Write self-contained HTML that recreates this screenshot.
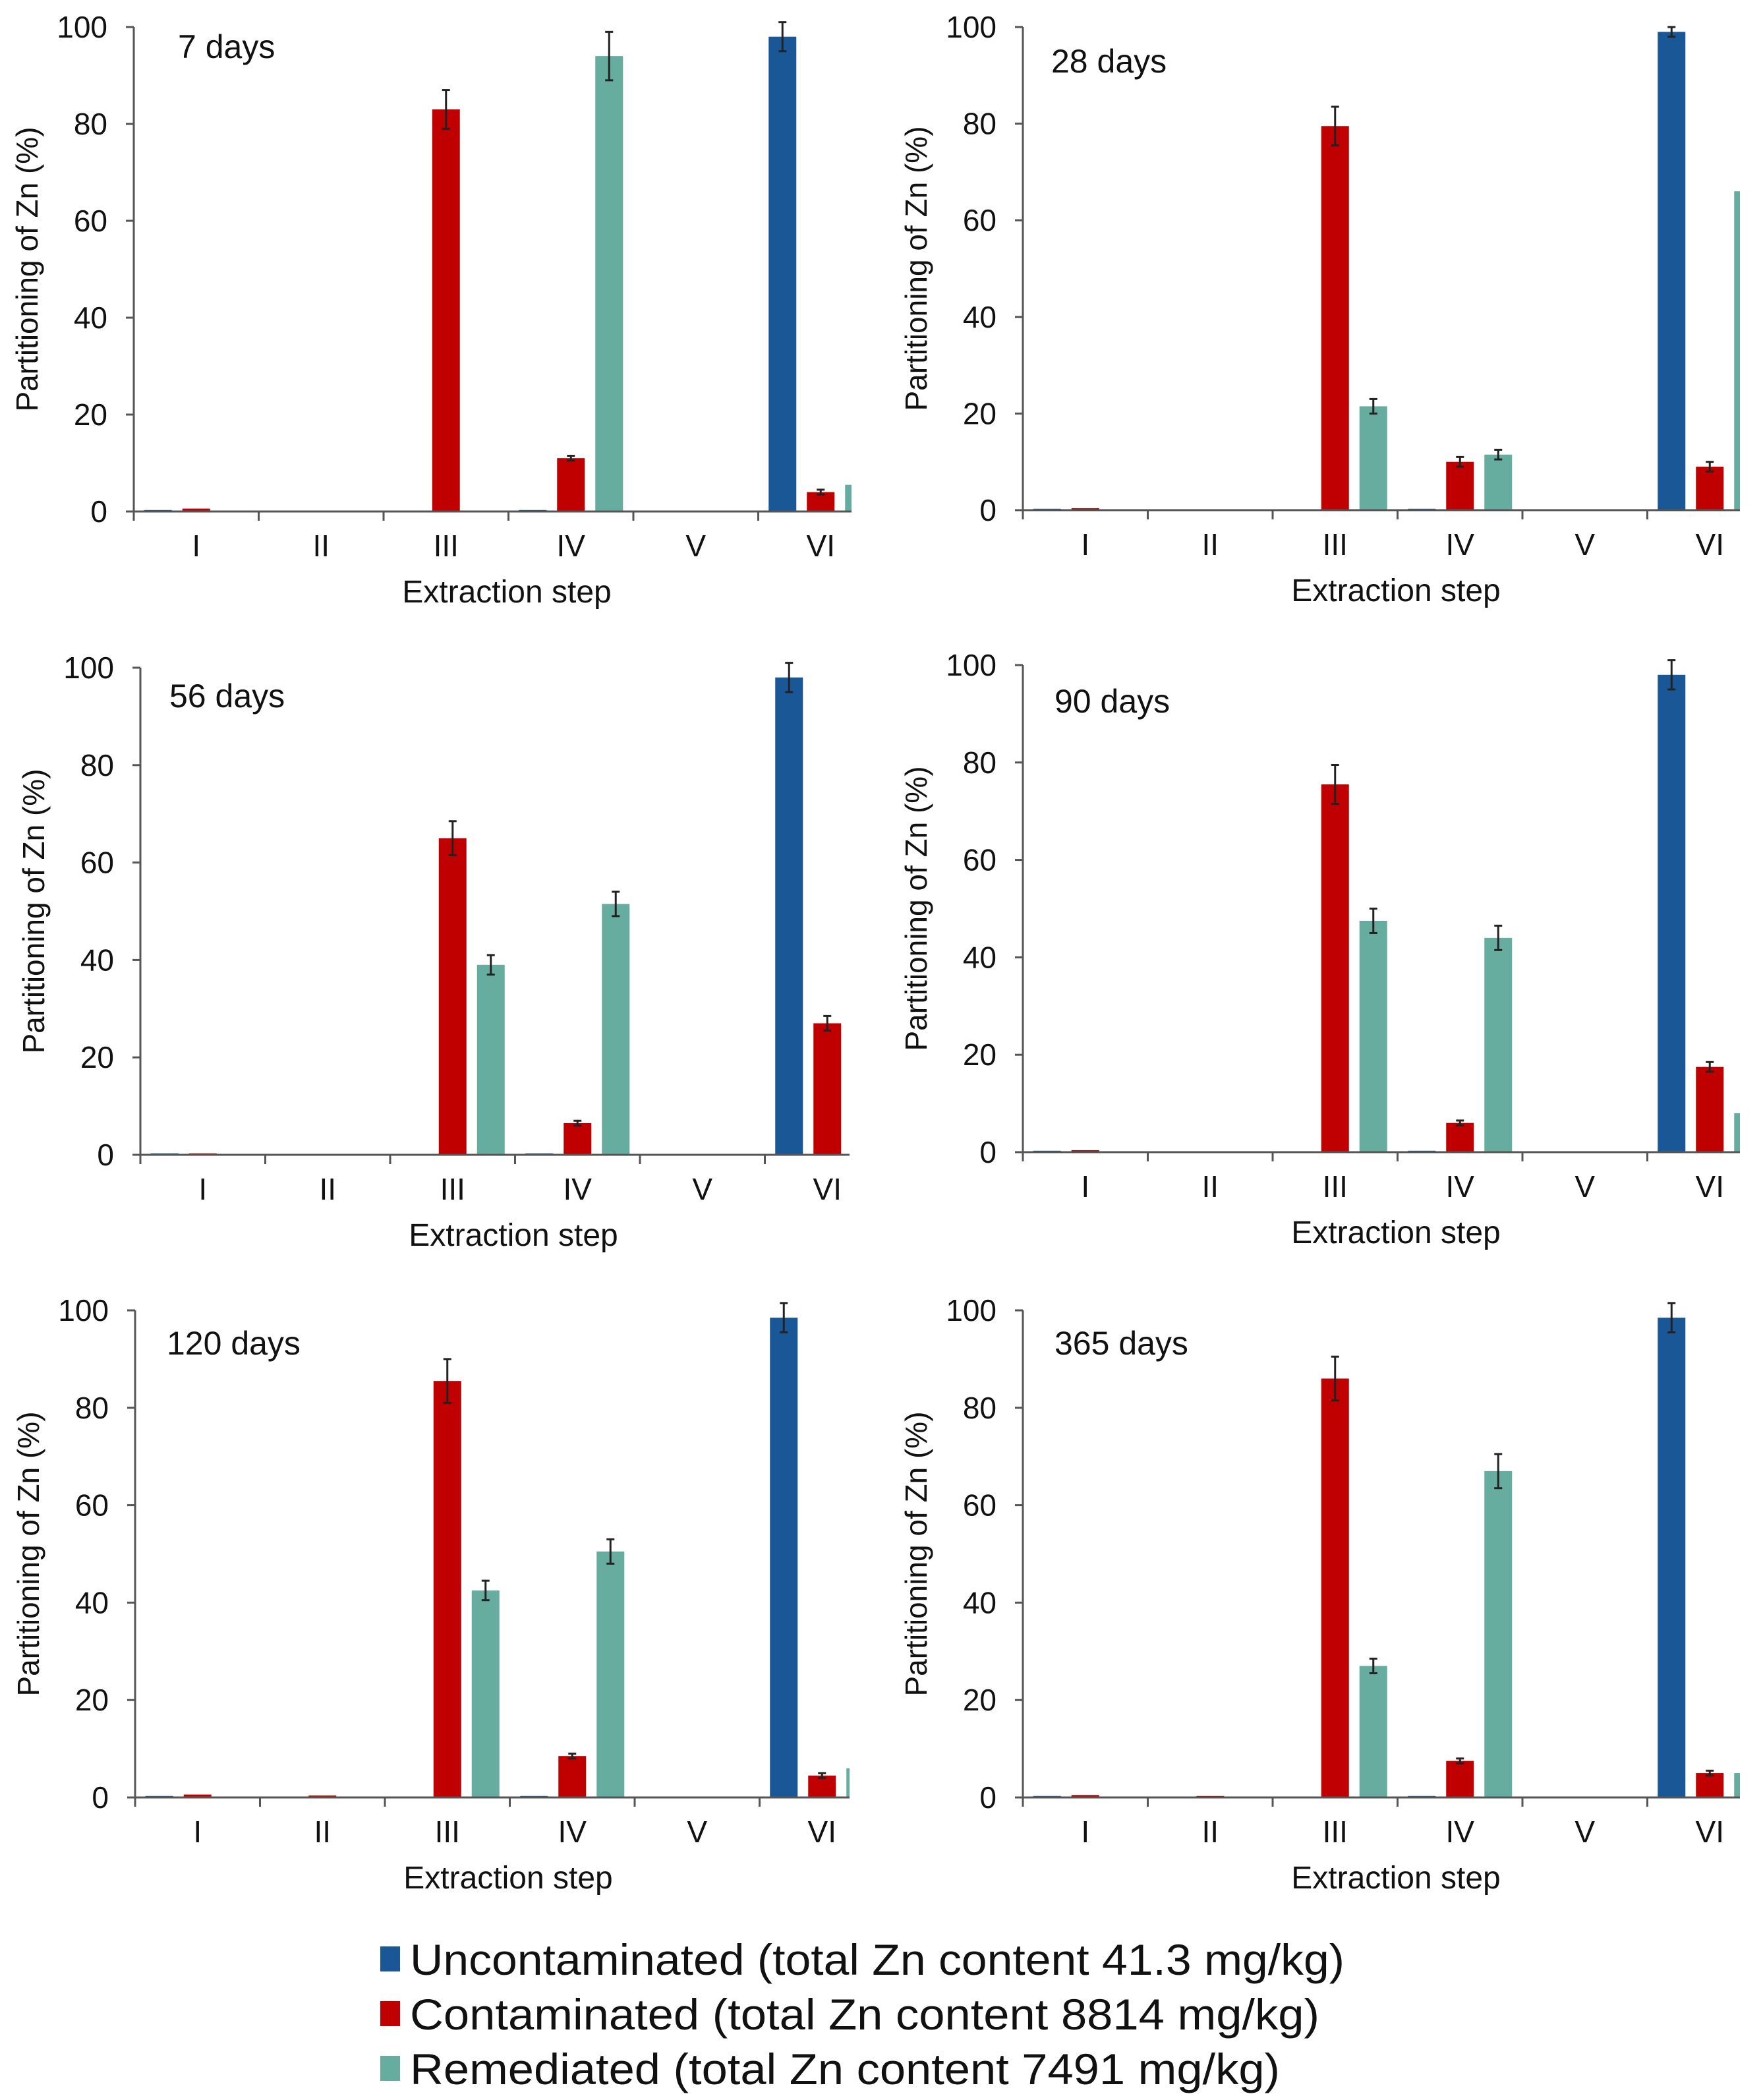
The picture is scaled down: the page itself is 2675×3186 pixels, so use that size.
<!DOCTYPE html>
<html><head><meta charset="utf-8"><style>
html,body{margin:0;padding:0;background:#fff}
svg{display:block}
text{font-family:"Liberation Sans",Arial,sans-serif;fill:#111}
</style></head><body>
<svg id="c" width="2675" height="3186" viewBox="0 0 2675 3186"></svg>
<script>
const categories = ["I","II","III","IV","V","VI"];
const yTicks = [0,20,40,60,80,100];
const panelTitles = ["7 days","28 days","56 days","90 days","120 days","365 days"];
const uncontaminated = [
 [0.3,0.2,0.2,0.3,0.2,98],[0.3,0.2,0.2,0.3,0.2,99],[0.3,0.2,0.2,0.3,0.2,98],
 [0.3,0.2,0.2,0.3,0.2,98],[0.3,0.2,0.2,0.3,0.2,98.5],[0.3,0.2,0.2,0.3,0.2,98.5]];
const contaminated = [
 [0.6,0.2,83,11,0.2,4],[0.4,0.2,79.5,10,0.2,9],[0.3,0.2,65,6.5,0.2,27],
 [0.4,0.2,75.5,6,0.2,17.5],[0.6,0.4,85.5,8.5,0.2,4.5],[0.5,0.3,86,7.5,0.2,5]];
const remediated = [
 [0.2,0.2,0.2,94,0.2,5.5],[0.2,0.2,21.5,11.5,0.2,66],[0.2,0.2,39,51.5,0.2,0],
 [0.2,0.2,47.5,44,0.2,8],[0.2,0.2,42.5,50.5,0.2,6],[0.2,0.2,27,67,0.2,5]];
const uncErr = [[0,0,0,0,0,3],[0,0,0,0,0,1],[0,0,0,0,0,3],[0,0,0,0,0,3],[0,0,0,0,0,3],[0,0,0,0,0,3]];
const conErr = [[0,0,4,0.5,0,0.5],[0,0,4,1,0,1],[0,0,3.5,0.5,0,1.5],[0,0,4,0.5,0,1],[0,0,4.5,0.5,0,0.5],[0,0,4.5,0.5,0,0.5]];
const remErr = [[0,0,0,5,0,0],[0,0,1.5,1,0,4],[0,0,2,2.5,0,0],[0,0,2.5,2.5,0,0],[0,0,2,2.5,0,0],[0,0,1.5,3.5,0,0]];

const layout = [
 {ax:203,y100:41,y0:776,xe:1292,tx:270,ty:88},
 {ax:1552,y100:41,y0:774,xe:2640,tx:1595,ty:110},
 {ax:213,y100:1013,y0:1752,xe:1289,tx:257,ty:1073},
 {ax:1552,y100:1009,y0:1748,xe:2640,tx:1600,ty:1081},
 {ax:205,y100:1988,y0:2727,xe:1289,tx:253,ty:2055},
 {ax:1552,y100:1988,y0:2727,xe:2640,tx:1600,ty:2055}];
const colors = ["#1a5796","#c00000","#66ad9f"];
const NS="http://www.w3.org/2000/svg";
const svg=document.getElementById('c');
function mk(tag,attrs,parent){const e=document.createElementNS(NS,tag);for(const k in attrs)e.setAttribute(k,attrs[k]);(parent||svg).appendChild(e);return e;}
const defs=mk('defs',{});
const CAT=189.5;
layout.forEach((L,p)=>{
  const g=mk('g',{});
  
  
  const cp=mk('clipPath',{id:'cp'+p},defs);
  mk('rect',{x:L.ax,y:L.y100-40,width:L.xe-L.ax,height:L.y0-L.y100+45},cp);
  const y=v=>L.y0-(v/100)*(L.y0-L.y100);
  const bars=mk('g',{'clip-path':'url(#cp'+p+')'},g);
  const series=[uncontaminated[p],contaminated[p],remediated[p]];
  const errs=[uncErr[p],conErr[p],remErr[p]];
  const names=['uncontaminated','contaminated','remediated'];
  categories.forEach((c,i)=>{
    const cx=L.ax+CAT*i+CAT/2;
    series.forEach((s,k)=>{
      const v=s[i]; if(v<=0) return;
      const bx=cx+(k-1)*58-21;
      const r=mk('rect',{x:bx,y:y(v),width:42,height:L.y0-y(v),fill:colors[k]},bars);
      
      
      const e=errs[k][i];
      if(e>0){
        const ex=bx+21;
        mk('line',{x1:ex,x2:ex,y1:y(v+e),y2:y(v-e),stroke:'#222','stroke-width':3},bars);
        mk('line',{x1:ex-6,x2:ex+6,y1:y(v+e),y2:y(v+e),stroke:'#222','stroke-width':3},bars);
        mk('line',{x1:ex-6,x2:ex+6,y1:y(v-e),y2:y(v-e),stroke:'#222','stroke-width':3},bars);
      }
    });
    const t=mk('text',{x:cx,y:L.y0+68,'font-size':46,'text-anchor':'middle'},g);
    t.textContent=c;
    
    
  });
  const xa=mk('line',{x1:L.ax,x2:L.xe,y1:L.y0,y2:L.y0,stroke:'#555','stroke-width':3},g);
  
  
  const ya=mk('line',{x1:L.ax,x2:L.ax,y1:L.y100,y2:L.y0+12,stroke:'#555','stroke-width':3},g);
  
  
  for(let i=0;i<=6;i++){const tx=L.ax+CAT*i; if(tx>L.xe)break; mk('line',{x1:tx,x2:tx,y1:L.y0,y2:L.y0+14,stroke:'#555','stroke-width':3},g);}
  yTicks.forEach(v=>{
    mk('line',{x1:L.ax-12,x2:L.ax,y1:y(v),y2:y(v),stroke:'#555','stroke-width':3},g);
    const t=mk('text',{x:L.ax-40,y:y(v)+16,'font-size':46,'text-anchor':'end'},g);
    t.textContent=v;
    
    
  });
  const xt=mk('text',{x:L.ax+566,y:L.y0+138,'font-size':48,'text-anchor':'middle'},g);
  xt.textContent='Extraction step';
  
  
  const ymid=(L.y0+L.y100)/2;
  const yt=mk('text',{x:0,y:0,'font-size':46,'text-anchor':'middle',transform:`translate(${L.ax-146},${ymid}) rotate(-90)`},g);
  yt.textContent='Partitioning of Zn (%)';
  
  
  const tt=mk('text',{x:L.tx,y:L.ty,'font-size':50},g);
  tt.textContent=panelTitles[p];
  
  
});
const legendLabels=["Uncontaminated (total Zn content 41.3 mg/kg)","Contaminated (total Zn content 8814 mg/kg)","Remediated (total Zn content 7491 mg/kg)"];
const legendW=[1418,1380,1320];
const lg=mk('g',{});


legendLabels.forEach((s,i)=>{
  const cy=2972+i*83;
  const r=mk('rect',{x:577,y:cy-19,width:30,height:38,fill:colors[i]},lg);
  
  
  const t=mk('text',{x:622,y:cy+24,'font-size':66,textLength:legendW[i],lengthAdjust:'spacingAndGlyphs'},lg);
  t.textContent=s;
  
  
});
</script>
</body></html>
